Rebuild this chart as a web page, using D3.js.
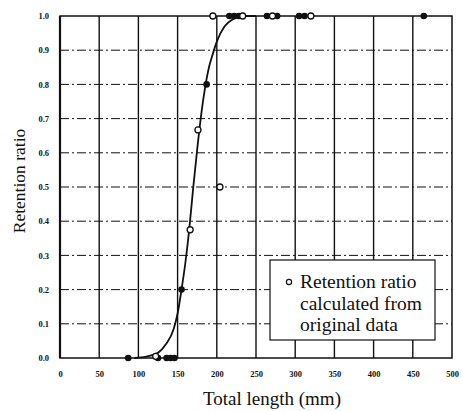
<!DOCTYPE html>
<html>
<head>
<meta charset="utf-8">
<script src="https://cdn.jsdelivr.net/npm/d3@7"></script>
<style>
  html, body { margin: 0; padding: 0; background: #fff; }
  svg { display: block; }
</style>
</head>
<body>
<svg id="chart" width="462" height="411"></svg>
<script>
// Observed retention ratio by total length (mm)
const filledLength = [87, 125, 136, 141, 146, 155, 187, 216, 222, 228, 264, 277, 305, 312, 464];
const filledRatio  = [0, 0, 0, 0, 0, 0.2, 0.8, 1, 1, 1, 1, 1, 1, 1, 1];

// Retention ratio calculated from original data
const openLength = [122, 166, 176, 204, 195, 233, 271, 320];
const openRatio  = [0.005, 0.375, 0.667, 0.5, 1, 1, 1, 1];

// Fitted selection curve
const curveLength = [95, 110, 125, 135, 145, 150, 155, 160, 165, 170, 175, 180, 185, 190, 195, 200, 210, 220, 235, 250];
const curveRatio  = [0, 0.004, 0.015, 0.04, 0.085, 0.13, 0.2, 0.28, 0.38, 0.5, 0.61, 0.71, 0.79, 0.85, 0.89, 0.925, 0.97, 0.99, 1, 1];

const xTicks = [0, 50, 100, 150, 200, 250, 300, 350, 400, 450, 500];
const yTicks = [0, 0.1, 0.2, 0.3, 0.4, 0.5, 0.6, 0.7, 0.8, 0.9, 1.0];
const legendLines = ["Retention ratio", "calculated from", "original data"];

const svg = d3.select("#chart");
const m = { left: 60, right: 10, top: 16, bottom: 53 };
const W = 462, H = 411;
const x = d3.scaleLinear().domain([0, 500]).range([m.left, W - m.right]);
const y = d3.scaleLinear().domain([0, 1]).range([H - m.bottom, m.top]);

const serif = "'Liberation Serif', 'Times New Roman', serif";

// horizontal grid (dash-dot)
svg.append("g").selectAll("line").data(yTicks.slice(1, -1)).join("line")
  .attr("x1", x(0)).attr("x2", x(500))
  .attr("y1", d => y(d)).attr("y2", d => y(d))
  .attr("stroke", "#111").attr("stroke-width", 1)
  .attr("stroke-dasharray", "9,3,2,3");

// vertical grid
svg.append("g").selectAll("line").data(xTicks.slice(1, -1)).join("line")
  .attr("x1", d => x(d)).attr("x2", d => x(d))
  .attr("y1", y(0)).attr("y2", y(1))
  .attr("stroke", "#111").attr("stroke-width", 1.4);

// frame
svg.append("rect")
  .attr("x", x(0)).attr("y", y(1))
  .attr("width", x(500) - x(0)).attr("height", y(0) - y(1))
  .attr("fill", "none").attr("stroke", "#111").attr("stroke-width", 1.5);
svg.append("line")
  .attr("x1", x(0)).attr("x2", x(0)).attr("y1", y(0)).attr("y2", y(1))
  .attr("stroke", "#111").attr("stroke-width", 2.2);

// axes
const xAxis = svg.append("g").attr("transform", `translate(0,${y(0)})`)
  .call(d3.axisBottom(x).tickValues(xTicks).tickSize(0).tickPadding(13).tickFormat(d3.format("d")));
const yAxis = svg.append("g").attr("transform", `translate(${x(0)},0)`)
  .call(d3.axisLeft(y).tickValues(yTicks).tickSize(0).tickPadding(11).tickFormat(d3.format(".1f")));
[xAxis, yAxis].forEach(a => {
  a.select(".domain").remove();
  a.selectAll("text").attr("font-family", serif).attr("font-size", 8.5)
    .attr("font-weight", "bold").attr("fill", "#111");
});

// axis titles
svg.append("text")
  .attr("x", 272).attr("y", 405)
  .attr("text-anchor", "middle")
  .attr("font-family", serif).attr("font-size", 19).attr("fill", "#111")
  .text("Total length (mm)");
svg.append("text")
  .attr("transform", `translate(25,181) rotate(-90)`)
  .attr("text-anchor", "middle")
  .attr("font-family", serif).attr("font-size", 17.5).attr("fill", "#111")
  .text("Retention ratio");

// fitted curve
const curveData = curveLength.map((d, i) => [d, curveRatio[i]]);
svg.append("path").datum(curveData)
  .attr("d", d3.line().x(d => x(d[0])).y(d => y(d[1])).curve(d3.curveMonotoneX))
  .attr("fill", "none").attr("stroke", "#111").attr("stroke-width", 1.8);

// points
svg.append("g").selectAll("circle").data(filledLength.map((d, i) => [d, filledRatio[i]])).join("circle")
  .attr("cx", d => x(d[0])).attr("cy", d => y(d[1])).attr("r", 3.3)
  .attr("fill", "#111");
svg.append("g").selectAll("circle").data(openLength.map((d, i) => [d, openRatio[i]])).join("circle")
  .attr("cx", d => x(d[0])).attr("cy", d => y(d[1])).attr("r", 3)
  .attr("fill", "#fff").attr("stroke", "#111").attr("stroke-width", 1.3);

// legend
const lg = svg.append("g");
lg.append("rect").attr("x", 270).attr("y", 260).attr("width", 165).attr("height", 80)
  .attr("fill", "#fff").attr("stroke", "#111").attr("stroke-width", 1.2);
lg.append("circle").attr("cx", 289).attr("cy", 282).attr("r", 2.6)
  .attr("fill", "#fff").attr("stroke", "#111").attr("stroke-width", 1.2);
lg.selectAll("text").data(legendLines).join("text")
  .attr("x", 300).attr("y", (d, i) => 288 + i * 21.5)
  .attr("font-family", serif).attr("font-size", 19.5).attr("fill", "#111")
  .text(d => d);
</script>
</body>
</html>
